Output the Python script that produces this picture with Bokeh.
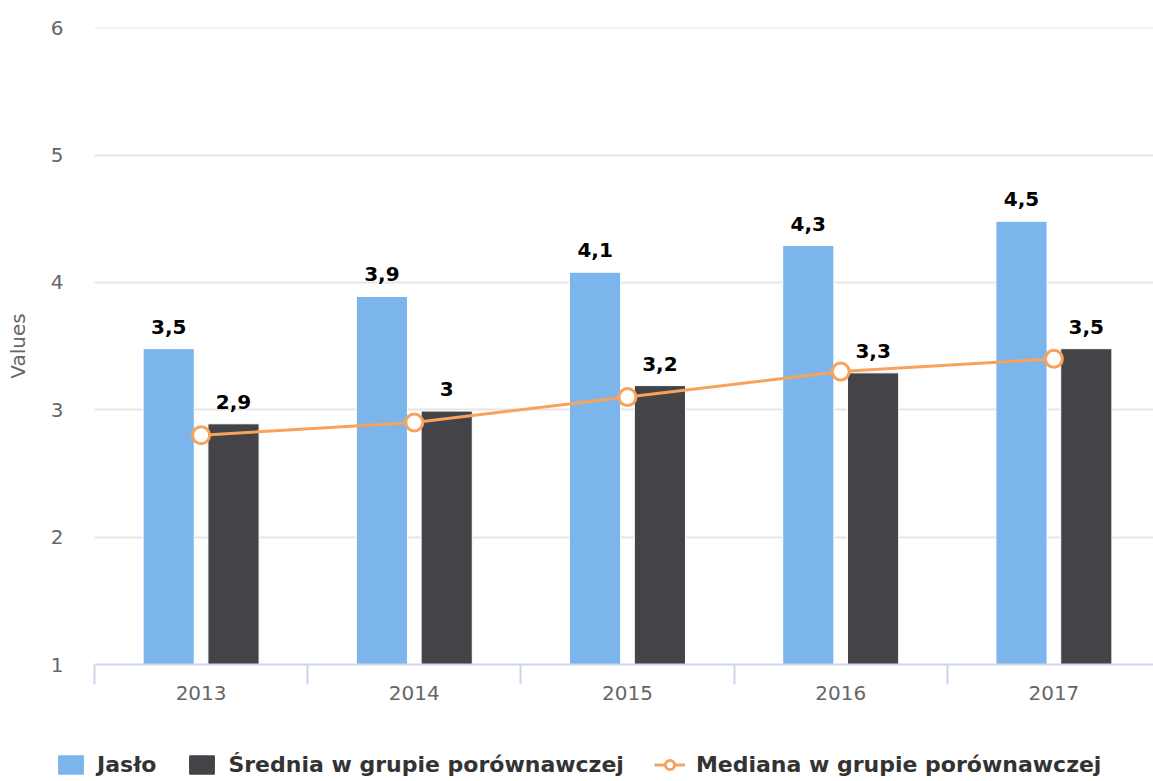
from bokeh.plotting import figure
from bokeh.models import (Range1d, FixedTicker, Legend, LegendItem, ColumnDataSource)
from bokeh.core.properties import value
from bokeh.embed import file_html
from bokeh.resources import INLINE

# ---- data ----
categories = ["2013", "2014", "2015", "2016", "2017"]
jaslo = [3.48, 3.89, 4.08, 4.29, 4.48]
srednia = [2.89, 2.99, 3.19, 3.29, 3.48]
mediana = [2.8, 2.9, 3.1, 3.3, 3.4]
jaslo_labels = ["3,5", "3,9", "4,1", "4,3", "4,5"]
srednia_labels = ["2,9", "3", "3,2", "3,3", "3,5"]
series_names = ["Jasło", "Średnia w grupie porównawczej", "Mediana w grupie porównawczej"]
y_ticks = [1, 2, 3, 4, 5, 6]
y_title = "Values"

FONT = "DejaVu Sans"
BLUE, DARK, ORANGE = "#7cb5ec", "#434348", "#f7a35c"
centers = [i + 0.5 for i in range(len(categories))]
boundaries = [float(i) for i in range(len(categories) + 1)]
dodge = 0.152
bar_w = 0.24

src = ColumnDataSource(dict(
    xc=centers,
    xj=[c - dodge for c in centers],
    xs=[c + dodge for c in centers],
    jaslo=jaslo, srednia=srednia, mediana=mediana,
    jl=jaslo_labels, sl=srednia_labels,
))

W = 1153
H_MAIN, H_LEG = 712, 69
LEFT, TOP = 94, 27
BOTTOM = H_MAIN - 664
p = figure(width=W, height=H_MAIN,
           x_range=Range1d(0, (W - LEFT) / 213.2), y_range=Range1d(1, 6.002),
           output_backend="svg", toolbar_location=None,
           min_border_left=LEFT, min_border_right=0,
           min_border_top=TOP, min_border_bottom=BOTTOM)
p.outline_line_color = None
p.background_fill_color = "white"
p.border_fill_color = "white"

# grid
p.xgrid.grid_line_color = None
p.ygrid.ticker = FixedTicker(ticks=y_ticks)
p.ygrid.grid_line_color = "#e6e6e6"
p.ygrid.grid_line_width = 2

# bars
p.vbar(x="xj", top="jaslo", bottom=1, width=bar_w, source=src,
       fill_color=BLUE, line_color="white", line_width=1)
p.vbar(x="xs", top="srednia", bottom=1, width=bar_w, source=src,
       fill_color=DARK, line_color="white", line_width=1)

# median line
p.line(x="xc", y="mediana", source=src, line_color=ORANGE, line_width=3)
p.scatter(x="xc", y="mediana", source=src, size=17, marker="circle",
          fill_color="white", line_color=ORANGE, line_width=3)

# data labels
for xcol, ycol, lcol in (("xj", "jaslo", "jl"), ("xs", "srednia", "sl")):
    p.text(x=xcol, y=ycol, text=lcol, source=src,
           text_font=value(FONT), text_font_size="20px", text_font_style="bold",
           text_color="#000000", text_align="center", text_baseline="alphabetic",
           y_offset=-22)

# x axis
xa = p.xaxis[0]
xa.ticker = FixedTicker(ticks=centers, minor_ticks=boundaries)
xa.major_label_overrides = {c: lab for c, lab in zip(centers, categories)}
xa.axis_line_color = "#ccd6eb"
xa.axis_line_width = 2
xa.major_tick_line_color = None
xa.major_tick_out = 0
xa.major_tick_in = 0
xa.minor_tick_line_color = "#ccd6eb"
xa.minor_tick_line_width = 2
xa.minor_tick_out = 20
xa.minor_tick_in = 0
xa.major_label_text_font = FONT
xa.major_label_text_font_size = "20px"
xa.major_label_text_color = "#666666"
xa.major_label_standoff = 1

# y axis
ya = p.yaxis[0]
ya.ticker = FixedTicker(ticks=y_ticks)
ya.axis_line_color = None
ya.major_tick_line_color = None
ya.minor_tick_line_color = None
ya.major_tick_out = 0
ya.major_tick_in = 0
ya.major_label_text_font = FONT
ya.major_label_text_font_size = "20px"
ya.major_label_text_color = "#666666"
ya.major_label_standoff = 31
ya.axis_label = y_title
ya.axis_label_text_font = FONT
ya.axis_label_text_font_size = "20px"
ya.axis_label_text_font_style = "normal"
ya.axis_label_text_color = "#666666"
ya.axis_label_standoff = 18

# ---- legend strip (separate root figure, frame spans its full width) ----
q = figure(width=W, height=H_LEG, x_range=Range1d(0, 1), y_range=Range1d(0, 1),
           output_backend="svg", toolbar_location=None,
           x_axis_location=None, y_axis_location=None,
           min_border_left=0, min_border_right=0, min_border_top=0, min_border_bottom=0)
q.grid.visible = False
q.outline_line_color = None
q.border_fill_color = "white"
# legend-only renderers, placed outside the visible range
lj = q.vbar(x=[-10], top=[-10], width=0.1, fill_color=BLUE, line_color=BLUE)
ls = q.vbar(x=[-10], top=[-10], width=0.1, fill_color=DARK, line_color=DARK)
ll = q.line(x=[-10, -9], y=[-10, -9], line_color=ORANGE, line_width=3)
lm = q.scatter(x=[-10], y=[-10], size=15, marker="circle", fill_color="white",
               line_color=ORANGE, line_width=3)

legend = Legend(items=[
    LegendItem(label=series_names[0], renderers=[lj]),
    LegendItem(label=series_names[1], renderers=[ls]),
    LegendItem(label=series_names[2], renderers=[ll, lm]),
], orientation="horizontal", location=(55, 4))
legend.label_text_font = FONT
legend.label_text_font_size = "22px"
legend.label_text_font_style = "bold"
legend.label_text_color = "#333333"
legend.glyph_width = 31
legend.glyph_height = 23
legend.label_height = 23
legend.label_standoff = 11
legend.spacing = 30
legend.padding = 0
legend.margin = 0
legend.border_line_color = None
legend.background_fill_alpha = 0
q.add_layout(legend, "center")

open("out.html", "w").write(file_html([p, q], INLINE))
